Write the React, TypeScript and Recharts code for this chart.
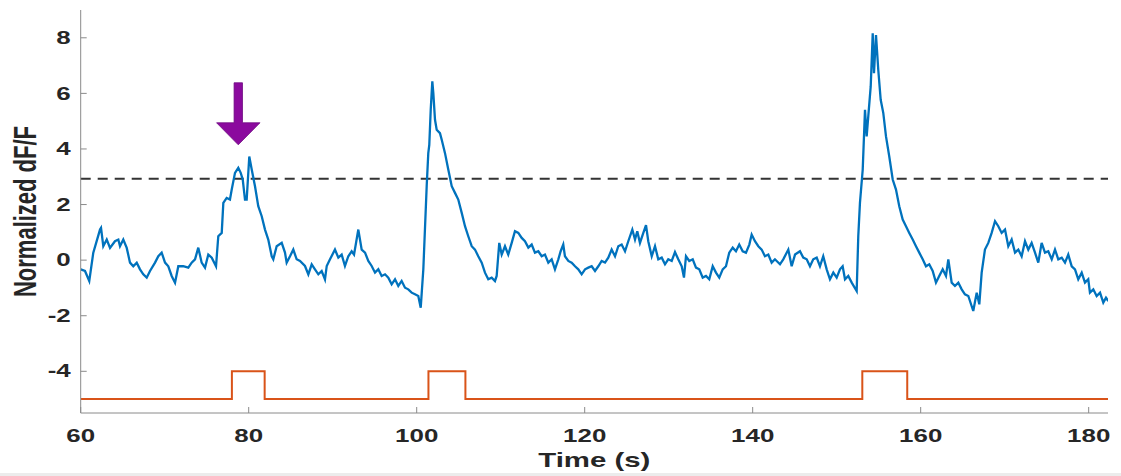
import { Label, Line, LineChart, ReferenceDot, ReferenceLine, XAxis, YAxis } from 'recharts'

// dF/F trace
const traceTime = [
  60.0, 60.51, 61.02, 61.5, 62.3, 62.42, 62.69, 63.1, 63.49, 64.08, 64.48, 64.68, 65.07, 65.48, 65.87, 66.26,
  66.67, 67.06, 67.45, 67.86, 68.25, 68.85, 69.24, 69.64, 70.04, 70.43, 70.83, 71.23, 71.62, 72.21, 72.81, 73.21,
  73.61, 74.0, 74.4, 74.8, 75.19, 75.6, 76.11, 76.38, 76.79, 76.98, 77.38, 77.77, 77.98, 78.37, 78.76, 79.05,
  79.29, 79.56, 79.76, 80.07, 80.36, 80.75, 81.14, 81.55, 81.94, 82.33, 82.74, 82.93, 83.33, 83.93, 84.32, 84.52,
  84.92, 85.31, 85.71, 86.11, 86.7, 87.1, 87.5, 87.89, 88.29, 88.69, 89.08, 89.29, 89.68, 90.27, 90.67, 91.07,
  91.46, 91.86, 92.26, 92.54, 93.05, 93.45, 93.85, 94.24, 94.64, 95.04, 95.43, 95.83, 96.23, 96.62, 97.02, 97.42,
  97.81, 98.21, 98.61, 99.0, 99.4, 99.8, 100.19, 100.48, 100.79, 101.19, 101.38, 101.5, 101.67, 101.86, 101.98,
  102.18, 102.38, 102.77, 102.98, 103.37, 103.76, 104.17, 104.56, 104.95, 105.36, 105.75, 106.14, 106.55, 106.94,
  107.33, 107.74, 108.13, 108.52, 108.93, 109.32, 109.52, 109.83, 110.12, 110.51, 110.9, 111.31, 111.7, 112.1,
  112.5, 112.89, 113.29, 113.69, 114.08, 114.48, 114.88, 115.27, 115.67, 116.07, 116.46, 116.86, 117.14, 117.45,
  117.65, 118.05, 118.45, 118.85, 119.24, 119.64, 120.04, 120.43, 120.83, 121.23, 121.62, 122.02, 122.42, 122.81,
  123.21, 123.61, 124.0, 124.4, 124.8, 125.19, 125.67, 125.99, 126.26, 126.58, 126.98, 127.3, 127.57, 127.98,
  128.37, 128.76, 129.17, 129.56, 129.95, 130.36, 130.75, 131.14, 131.55, 131.82, 132.06, 132.45, 132.86, 133.25,
  133.64, 134.05, 134.44, 134.83, 135.24, 135.63, 136.02, 136.43, 136.82, 137.21, 137.62, 138.01, 138.4, 138.81,
  139.2, 139.6, 139.88, 140.27, 140.67, 141.07, 141.46, 141.86, 142.26, 142.65, 143.25, 143.64, 144.24, 144.64,
  145.04, 145.63, 146.02, 146.43, 146.82, 147.21, 147.62, 148.01, 148.4, 148.81, 149.2, 149.6, 150.0, 150.39,
  150.71, 150.99, 151.38, 151.79, 152.38, 152.57, 152.77, 153.1, 153.37, 153.57, 153.76, 154.05, 154.29, 154.44,
  154.68, 154.95, 155.24, 155.55, 155.87, 156.26, 156.67, 157.06, 157.45, 157.86, 158.25, 158.64, 159.05, 159.44,
  159.83, 160.24, 160.63, 161.02, 161.43, 161.82, 162.21, 162.62, 163.01, 163.29, 163.69, 164.08, 164.48, 164.88,
  165.27, 165.67, 166.26, 166.67, 166.98, 167.26, 167.65, 168.05, 168.45, 168.85, 169.24, 169.64, 170.04, 170.43,
  170.83, 171.23, 171.62, 172.02, 172.42, 172.81, 173.21, 173.61, 174.0, 174.4, 174.8, 175.19, 175.6, 175.99,
  176.38, 176.79, 177.18, 177.57, 177.98, 178.37, 178.76, 179.17, 179.56, 179.95, 180.15, 180.55, 180.95, 181.35,
  181.74, 182.06, 182.33,
]

const traceValue = [
  -0.33, -0.39, -0.75, 0.27, 1.1, 1.16, 0.5, 0.74, 0.44, 0.68, 0.74, 0.5, 0.74, 0.44, -0.09, -0.22,
  -0.09, -0.33, -0.51, -0.63, -0.39, -0.09, 0.14, 0.27, -0.09, -0.22, -0.57, -0.81, -0.22, -0.22, -0.27, -0.09,
  0.03, 0.45, -0.09, -0.27, 0.2, 0.09, -0.22, 0.86, 0.98, 2.06, 2.24, 2.18, 2.54, 3.14, 3.32, 3.14,
  2.9, 2.18, 2.18, 3.73, 3.26, 2.66, 1.94, 1.58, 1.1, 0.74, 0.14, 0.03, 0.5, 0.62, 0.27, -0.09,
  0.14, 0.38, 0.03, -0.03, -0.21, -0.51, -0.15, -0.33, -0.51, -0.39, -0.69, -0.21, 0.03, 0.38, 0.09, 0.2,
  -0.21, 0.14, 0.32, 0.2, 1.1, 0.38, 0.27, -0.03, -0.21, -0.45, -0.33, -0.57, -0.51, -0.63, -0.87, -0.69,
  -0.93, -0.75, -0.99, -1.05, -1.17, -1.23, -1.29, -1.71, -0.33, 2.66, 3.85, 4.15, 5.41, 6.43, 6.01,
  5.05, 4.69, 4.57, 4.33, 3.85, 3.26, 2.66, 2.42, 2.18, 1.7, 1.22, 0.86, 0.5, 0.38,
  0.14, -0.09, -0.45, -0.69, -0.63, -0.75, -0.57, 0.62, 0.2, 0.5, 0.2, 0.62, 1.04, 0.98,
  0.8, 0.68, 0.45, 0.56, 0.27, 0.32, 0.14, 0.2, -0.09, 0.03, -0.33, 0.03, 0.32, 0.56,
  0.14, -0.03, -0.09, -0.22, -0.33, -0.51, -0.33, -0.27, -0.22, -0.39, -0.22, -0.03, -0.09, 0.09,
  0.38, 0.14, 0.5, 0.56, 0.32, 0.68, 1.1, 0.74, 1.04, 0.62, 0.98, 1.26, 0.68, 0.14,
  0.5, 0.03, 0.09, -0.15, 0.03, -0.03, 0.29, 0.03, -0.22, -0.63, 0.14, -0.03, 0.03, -0.27,
  -0.33, -0.63, -0.57, -0.69, -0.22, -0.45, -0.63, -0.33, -0.22, 0.27, 0.45, 0.32, 0.56, 0.32,
  0.27, 0.56, 0.92, 0.68, 0.5, 0.38, 0.14, 0.2, -0.09, 0.03, -0.15, 0.03, 0.38, -0.22,
  0.2, 0.32, 0.09, 0.03, -0.22, 0.03, 0.09, -0.22, 0.14, -0.33, -0.69, -0.45, -0.63, -0.33,
  -0.22, -0.69, -0.57, -0.81, -1.11, 0.86, 2.06, 3.26, 5.41, 4.45, 5.17, 6.25, 8.16, 6.73,
  8.1, 6.85, 5.77, 5.29, 4.45, 3.73, 2.9, 2.54, 1.94, 1.46, 1.22, 0.98, 0.74, 0.5,
  0.27, 0.03, -0.22, -0.15, -0.39, -0.81, -0.57, -0.33, -0.57, 0.03, -0.81, -0.93, -0.81, -1.05,
  -1.23, -1.29, -1.83, -1.17, -1.59, -0.45, 0.38, 0.62, 0.98, 1.4, 1.22, 0.98, 1.1, 0.5,
  0.74, 0.27, 0.38, 0.14, 0.68, 0.38, 0.62, 0.27, -0.09, 0.62, 0.27, 0.32, 0.03, 0.38,
  0.03, 0.09, -0.09, 0.2, -0.22, -0.33, -0.69, -0.45, -0.81, -0.69, -1.17, -1.05, -1.29, -1.17,
  -1.53, -1.35, -1.47,
]

// stimulus pulses (s)
const stimOnsets = [78.0, 101.4, 153.05]
const stimOffsets = [81.9, 105.8, 158.4]
const stimLow = -5
const stimHigh = -4

const threshold = 2.93
const arrowTime = 78.76
const arrowTip = 4.15

const xTicks = [60, 80, 100, 120, 140, 160, 180]
const yTicks = [-4, -2, 0, 2, 4, 6, 8]
const xDomain = [60, 182.3]
const yDomain = [-5.5, 9]

const traceData = traceTime.map((t, i) => ({ t, v: traceValue[i] }))

const stimData = [{ t: xDomain[0], v: stimLow }]
stimOnsets.forEach((on, i) => {
  stimData.push({ t: on, v: stimLow }, { t: on, v: stimHigh })
  stimData.push({ t: stimOffsets[i], v: stimHigh }, { t: stimOffsets[i], v: stimLow })
})
stimData.push({ t: xDomain[1], v: stimLow })

const FONT = '"Liberation Sans", Arial, Helvetica, sans-serif'
const AXIS = '#8a8a8a'
const TEXT = '#262626'

function XTick({ x, y, payload }: any) {
  return (
    <g>
      <line x1={x} x2={x} y1={y} y2={y - 6} stroke={AXIS} />
      <text
        transform={`translate(${x},${y + 23}) scale(1.4,1)`}
        textAnchor="middle"
        dominantBaseline="central"
        fontFamily={FONT}
        fontWeight="bold"
        fontSize={18.5}
        fill={TEXT}
      >
        {payload.value}
      </text>
    </g>
  )
}

function YTick({ x, y, payload }: any) {
  return (
    <g>
      <line x1={x} x2={x + 6} y1={y} y2={y} stroke={AXIS} />
      <text
        transform={`translate(${x - 10},${y}) scale(1.4,1)`}
        textAnchor="end"
        dominantBaseline="central"
        fontFamily={FONT}
        fontWeight="bold"
        fontSize={18.5}
        fill={TEXT}
      >
        {payload.value}
      </text>
    </g>
  )
}

function Arrow({ cx, cy }: any) {
  if (cx == null || cy == null) return null
  const pts = [
    [cx - 4.2, cy - 62],
    [cx + 4.2, cy - 62],
    [cx + 4.2, cy - 22],
    [cx + 21.7, cy - 22],
    [cx, cy],
    [cx - 21.7, cy - 22],
    [cx - 4.2, cy - 22],
  ]
  return <polygon points={pts.map((p) => p.join(',')).join(' ')} fill="#8b0a9e" stroke="#6e0a80" strokeWidth={0.8} />
}

export default function App() {
  return (
    <div style={{ width: 1121, height: 476, background: 'linear-gradient(to bottom, #fff 473px, #ececec 473px)' }}>
      <style>{'body{margin:0}'}</style>
      <LineChart width={1121} height={476} margin={{ top: 10, right: 13, left: 0, bottom: 0 }}>
        <XAxis
          dataKey="t"
          type="number"
          domain={xDomain}
          ticks={xTicks}
          allowDataOverflow
          height={63}
          tickSize={0}
          tickMargin={0}
          stroke={AXIS}
          tick={<XTick />}
        >
          <Label
            content={({ viewBox }: any) => (
              <text
                transform={`translate(${viewBox.x + viewBox.width / 2},${viewBox.y + 47}) scale(1.4,1)`}
                textAnchor="middle"
                dominantBaseline="central"
                fontFamily={FONT}
                fontWeight="bold"
                fontSize={21}
                fill={TEXT}
              >
                Time (s)
              </text>
            )}
          />
        </XAxis>
        <YAxis
          type="number"
          domain={yDomain}
          ticks={yTicks}
          allowDataOverflow
          width={80.7}
          tickSize={0}
          tickMargin={0}
          stroke={AXIS}
          tick={<YTick />}
        >
          <Label
            content={({ viewBox }: any) => (
              <text
                transform={`translate(${viewBox.x + 26},${viewBox.y + viewBox.height / 2}) rotate(-90) scale(1,1.4)`}
                textAnchor="middle"
                dominantBaseline="central"
                fontFamily={FONT}
                fontWeight="bold"
                fontSize={22}
                fill={TEXT}
              >
                Normalized dF/F
              </text>
            )}
          />
        </YAxis>
        <ReferenceLine y={threshold} stroke="#333" strokeWidth={2} strokeDasharray="10 7" />
        <Line
          data={stimData}
          dataKey="v"
          type="linear"
          stroke="#d95319"
          strokeWidth={2}
          dot={false}
          isAnimationActive={false}
        />
        <Line
          data={traceData}
          dataKey="v"
          type="linear"
          stroke="#0072bd"
          strokeWidth={2.3}
          dot={false}
          isAnimationActive={false}
        />
        <ReferenceDot x={arrowTime} y={arrowTip} r={0} ifOverflow="visible" shape={<Arrow />} />
      </LineChart>
    </div>
  )
}
